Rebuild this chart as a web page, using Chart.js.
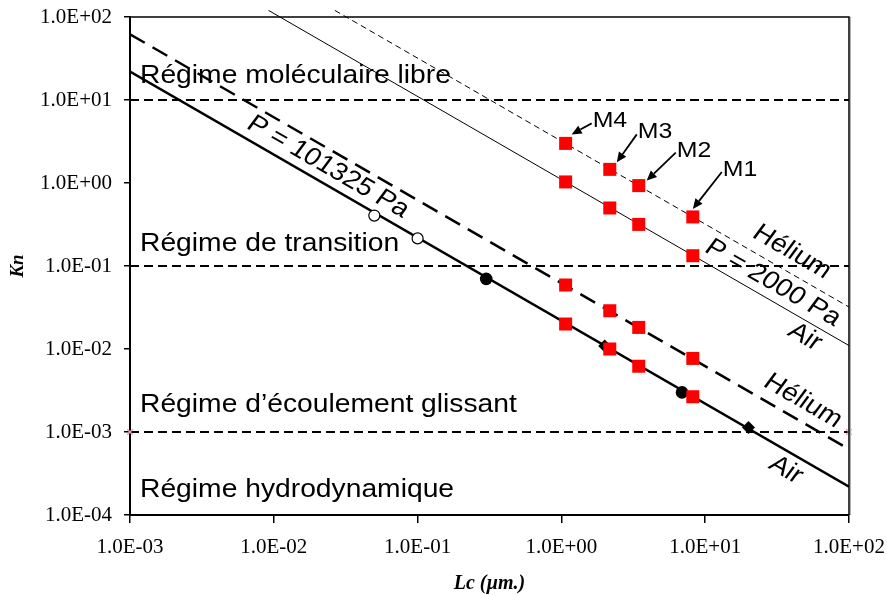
<!DOCTYPE html>
<html>
<head>
<meta charset="utf-8">
<script src="https://cdn.jsdelivr.net/npm/chart.js@4/dist/chart.umd.min.js"></script>
<style>
  html, body { margin: 0; padding: 0; background: #fff; }
  #wrap { width: 887px; height: 596px; position: relative; }
</style>
</head>
<body>
<div id="wrap"><canvas id="kn" width="887" height="596"></canvas></div>
<script>
// Knudsen number Kn versus characteristic length Lc (log-log)

// axis ticks
const xTickValues = [1e-3, 1e-2, 1e-1, 1e0, 1e1, 1e2];
const xTickLabels = ['1.0E-03', '1.0E-02', '1.0E-01', '1.0E+00', '1.0E+01', '1.0E+02'];
const yTickValues = [1e-4, 1e-3, 1e-2, 1e-1, 1e0, 1e1, 1e2];
const yTickLabels = ['1.0E-04', '1.0E-03', '1.0E-02', '1.0E-01', '1.0E+00', '1.0E+01', '1.0E+02'];

// regime boundaries (Kn)
const regimeBoundaryKn = [10, 0.1, 0.001];
const boundaryLc = [0.001, 100];

// Kn(Lc) curves, end points
const atmLc = [0.001, 100];
const airAtmKn = [22, 0.00022];
const heliumAtmKn = [62, 0.00062];
const air2000Lc = [0.0092, 100];
const air2000Kn = [120, 0.011];
const helium2000Lc = [0.0266, 100];
const helium2000Kn = [120, 0.032];

// samples M4, M3, M2, M1
const sampleNames = ['M4', 'M3', 'M2', 'M1'];
const sampleLc = [1.07, 2.17, 3.45, 8.2];
const helium2000Samples = [3.0, 1.46, 0.93, 0.39];
const air2000Samples = [1.03, 0.50, 0.317, 0.133];
const heliumAtmSamples = [0.059, 0.0289, 0.0182, 0.0077];
const airAtmSamples = [0.020, 0.0100, 0.0062, 0.00266];

// other marked points on the air curve
const openLc = [0.05, 0.1];
const openKn = [0.405, 0.215];
const dotLc = [0.3, 6.9];
const dotKn = [0.070, 0.0030];
const diamondLc = [2.0, 20];
const diamondKn = [0.0109, 0.00113];

const pts = (xs, ys) => xs.map((x, i) => ({ x: x, y: ys[i] }));
const label = (values, labels) => (v) => {
  const i = values.findIndex(t => Math.abs(Math.log10(t) - Math.log10(v)) < 1e-6);
  return i >= 0 ? labels[i] : '';
};

const boundaryDatasets = regimeBoundaryKn.map((kn, i) => ({
  data: pts(boundaryLc, [kn, kn]),
  showLine: true,
  borderColor: '#000',
  borderWidth: 2,
  borderDash: [9, 5],
  pointRadius: i === 2 ? 4 : 0,
  pointStyle: 'crossRot',
  pointBorderColor: '#f29ac8',
  pointBorderWidth: 1.5,
  clip: false,
  order: 20
}));

const curve = (data, width, dash, clip) => ({
  data: data,
  showLine: true,
  borderColor: '#000',
  borderWidth: width,
  borderDash: dash,
  pointRadius: 0,
  clip: clip,
  order: 10
});

const markers = (data, style, radius, fill, stroke, bw) => ({
  data: data,
  showLine: false,
  pointStyle: style,
  pointRadius: radius,
  pointBackgroundColor: fill,
  pointBorderColor: stroke,
  pointBorderWidth: bw,
  order: 1
});

const STRETCH = 1.13;

function drawText(ctx, text, x, y, angle, align, baseline) {
  ctx.save();
  ctx.translate(x, y);
  ctx.scale(STRETCH, 1);
  ctx.rotate(Math.atan2(STRETCH * Math.sin(angle), Math.cos(angle)));
  ctx.textAlign = align;
  ctx.textBaseline = baseline;
  ctx.fillText(text, 0, 0);
  ctx.restore();
}

const noScalePadding = (s) => {
  s.paddingLeft = 0; s.paddingRight = 0; s.paddingTop = 0; s.paddingBottom = 0;
};

const annotations = {
  id: 'annotations',
  afterDatasetsDraw(chart) {
    const ctx = chart.ctx;
    const xs = chart.scales.x, ys = chart.scales.y;
    const area = chart.chartArea;
    const dx = xs.getPixelForValue(10) - xs.getPixelForValue(1);
    const dy = ys.getPixelForValue(0.1) - ys.getPixelForValue(1);
    const slope = Math.atan2(dy, dx);

    ctx.save();
    // plot frame, top and right
    ctx.strokeStyle = '#000';
    ctx.lineWidth = 1.5;
    ctx.beginPath();
    ctx.moveTo(area.left, area.top);
    ctx.lineTo(area.right, area.top);
    ctx.lineTo(area.right, area.bottom);
    ctx.stroke();
    ctx.strokeStyle = '#b0b0b0';
    ctx.lineWidth = 1;
    ctx.beginPath();
    ctx.moveTo(area.right + 1.5, area.top);
    ctx.lineTo(area.right + 1.5, area.bottom);
    ctx.stroke();
    ctx.strokeStyle = '#000';

    ctx.fillStyle = '#000';
    ctx.font = '25px "Liberation Sans", Arial, sans-serif';
    drawText(ctx, 'Régime moléculaire libre', 140, 83, 0, 'left', 'alphabetic');
    drawText(ctx, 'Régime de transition', 140, 251, 0, 'left', 'alphabetic');
    drawText(ctx, 'Régime d\u2019écoulement glissant', 140, 412, 0, 'left', 'alphabetic');
    drawText(ctx, 'Régime hydrodynamique', 140, 497, 0, 'left', 'alphabetic');

    drawText(ctx, 'P = 101325 Pa', 328, 167, slope, 'center', 'middle');
    drawText(ctx, 'P = 2000 Pa', 773, 283, slope, 'center', 'middle');
    drawText(ctx, 'Hélium', 792, 252, slope, 'center', 'middle');
    drawText(ctx, 'Air', 805, 337, slope, 'center', 'middle');
    drawText(ctx, 'Hélium', 803, 401, slope, 'center', 'middle');
    drawText(ctx, 'Air', 786, 470, slope, 'center', 'middle');

    // sample callouts
    const tipOffset = [[6, -9], [7, -7], [8, -5], [0, -8]];
    const tailOffset = [[20, -11], [20, -28], [29, -28], [29, -37]];
    ctx.font = '22px "Liberation Sans", Arial, sans-serif';
    sampleNames.forEach((name, i) => {
      const px = xs.getPixelForValue(sampleLc[i]);
      const py = ys.getPixelForValue(helium2000Samples[i]);
      const tip = { x: px + tipOffset[i][0], y: py + tipOffset[i][1] };
      const tail = { x: tip.x + tailOffset[i][0], y: tip.y + tailOffset[i][1] };
      const a = Math.atan2(tip.y - tail.y, tip.x - tail.x);
      const head = 10, half = 4.5;
      const bx = tip.x - head * Math.cos(a), by = tip.y - head * Math.sin(a);
      ctx.lineWidth = 1.8;
      ctx.beginPath();
      ctx.moveTo(tail.x, tail.y);
      ctx.lineTo(bx, by);
      ctx.stroke();
      ctx.beginPath();
      ctx.moveTo(tip.x, tip.y);
      ctx.lineTo(bx + half * Math.sin(a), by - half * Math.cos(a));
      ctx.lineTo(bx - half * Math.sin(a), by + half * Math.cos(a));
      ctx.closePath();
      ctx.fill();
      drawText(ctx, name, tail.x + 1, tail.y + 4, 0, 'left', 'alphabetic');
    });
    ctx.restore();
  }
};

new Chart(document.getElementById('kn'), {
  type: 'scatter',
  data: {
    datasets: [
      ...boundaryDatasets,
      curve(pts(atmLc, airAtmKn), 2.5, [], undefined),
      curve(pts(atmLc, heliumAtmKn), 2.5, [17, 9], undefined),
      curve(pts(air2000Lc, air2000Kn), 1, [], false),
      curve(pts(helium2000Lc, helium2000Kn), 1, [6, 4], false),
      markers(pts(sampleLc, helium2000Samples), 'rect', 9.2, '#ff0000', '#ff0000', 0),
      markers(pts(sampleLc, air2000Samples), 'rect', 9.2, '#ff0000', '#ff0000', 0),
      markers(pts(sampleLc, heliumAtmSamples), 'rect', 9.2, '#ff0000', '#ff0000', 0),
      markers(pts(sampleLc, airAtmSamples), 'rect', 9.2, '#ff0000', '#ff0000', 0),
      markers(pts(openLc, openKn), 'circle', 5.5, '#ffffff', '#000000', 1.2),
      markers(pts(dotLc, dotKn), 'circle', 6.3, '#000000', '#000000', 0),
      markers(pts(diamondLc, diamondKn), 'rectRot', 6.5, '#000000', '#000000', 0)
    ]
  },
  options: {
    responsive: false,
    animation: false,
    events: [],
    layout: { padding: { top: 17, right: 38, left: 0, bottom: 0 } },
    plugins: { legend: { display: false }, tooltip: { enabled: false } },
    scales: {
      x: {
        type: 'logarithmic',
        min: 1e-3,
        max: 1e2,
        afterBuildTicks: (s) => { s.ticks = xTickValues.map(v => ({ value: v })); },
        afterFit: (s) => { s.height = 81; noScalePadding(s); },
        ticks: {
          callback: label(xTickValues, xTickLabels),
          font: { family: '"Liberation Serif", "Times New Roman", serif', size: 21 },
          color: '#000',
          padding: 12,
          maxRotation: 0,
          autoSkip: false
        },
        grid: { drawOnChartArea: false, drawTicks: true, tickLength: 8, color: '#000', lineWidth: 1.5 },
        border: { color: '#000', width: 2 },
        title: {
          display: true,
          text: 'Lc (µm.)',
          color: '#000',
          font: { family: '"Liberation Serif", "Times New Roman", serif', size: 20, style: 'italic', weight: 'bold' },
          padding: { top: 0, bottom: 0 }
        }
      },
      y: {
        type: 'logarithmic',
        min: 1e-4,
        max: 1e2,
        afterBuildTicks: (s) => { s.ticks = yTickValues.map(v => ({ value: v })); },
        afterFit: (s) => { s.width = 130; noScalePadding(s); },
        ticks: {
          callback: label(yTickValues, yTickLabels),
          font: { family: '"Liberation Serif", "Times New Roman", serif', size: 21 },
          color: '#000',
          padding: 12,
          autoSkip: false
        },
        grid: { drawOnChartArea: false, drawTicks: true, tickLength: 6, color: '#000', lineWidth: 1.5 },
        border: { color: '#000', width: 2 },
        title: {
          display: true,
          text: 'Kn',
          color: '#000',
          font: { family: '"Liberation Serif", "Times New Roman", serif', size: 19, style: 'italic', weight: 'bold' },
          padding: { top: 7, bottom: 0 }
        }
      }
    }
  },
  plugins: [annotations]
});
</script>
</body>
</html>
